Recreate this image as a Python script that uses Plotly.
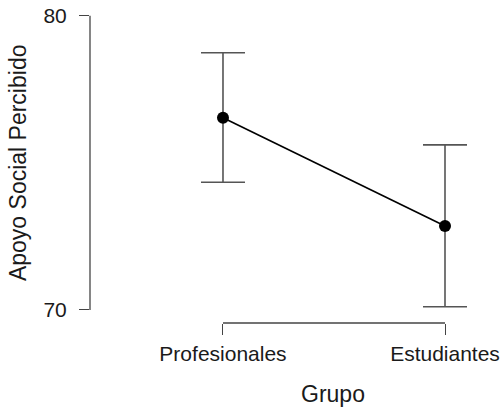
import plotly.graph_objects as go

categories = ["Profesionales", "Estudiantes"]
means = [76.53, 72.85]
upper = [78.74, 75.61]
lower = [74.34, 70.11]
y_ticks = [70, 80]
x_title = "Grupo"
y_title = "Apoyo Social Percibido"

xpos = list(range(len(categories)))
err_plus = [u - m for u, m in zip(upper, means)]
err_minus = [m - l for m, l in zip(means, lower)]

FONT = "Liberation Sans, Arial, sans-serif"
AX = "#444444"

fig = go.Figure()
fig.add_trace(go.Scatter(
    x=xpos, y=means, mode="lines+markers",
    line=dict(color="black", width=1.6),
    marker=dict(color="black", size=12),
    error_y=dict(type="data", symmetric=False, array=err_plus, arrayminus=err_minus,
                 color="#555555", thickness=1.6, width=22),
    showlegend=False, hoverinfo="skip",
))

# axis lines limited to the data / category span (R style)
fig.add_shape(type="line", xref="paper", yref="y", x0=0, x1=0,
              y0=min(y_ticks), y1=max(y_ticks), line=dict(color=AX, width=1.3))
fig.add_shape(type="line", xref="x", yref="paper", x0=min(xpos), x1=max(xpos),
              y0=0, y1=0, line=dict(color=AX, width=1.3))

fig.add_annotation(text=x_title, xref="paper", yref="paper", x=0.6075, y=0,
                   xanchor="center", yanchor="middle", yshift=-71, showarrow=False,
                   font=dict(family=FONT, size=23, color="#1a1a1a"))
fig.add_annotation(text=y_title, xref="paper", yref="paper", x=0, y=0.511,
                   xanchor="center", yanchor="middle", xshift=-72, textangle=-90,
                   showarrow=False, font=dict(family=FONT, size=23, color="#1a1a1a"))

fig.update_layout(
    width=503, height=407,
    margin=dict(l=90, r=13, t=10, b=84),
    paper_bgcolor="white", plot_bgcolor="white",
    font=dict(family=FONT, size=21, color="#1a1a1a"),
    xaxis=dict(range=[-0.599, 1.2027], tickvals=xpos, ticktext=categories,
               showgrid=False, zeroline=False, showline=False, automargin=False,
               ticks="outside", ticklen=11, tickwidth=1.3, tickcolor=AX,
               ticklabelstandoff=1, tickfont=dict(size=21)),
    yaxis=dict(range=[69.556, 80.194], tickvals=y_ticks,
               showgrid=False, zeroline=False, showline=False, automargin=False,
               ticks="outside", ticklen=10, tickwidth=1.3, tickcolor=AX,
               ticklabelstandoff=8, tickfont=dict(size=21)),
)

fig.write_html(
    "out.html",
    config={"displayModeBar": False},
    post_script="document.body.style.margin='0';document.body.style.overflow='hidden';",
)
